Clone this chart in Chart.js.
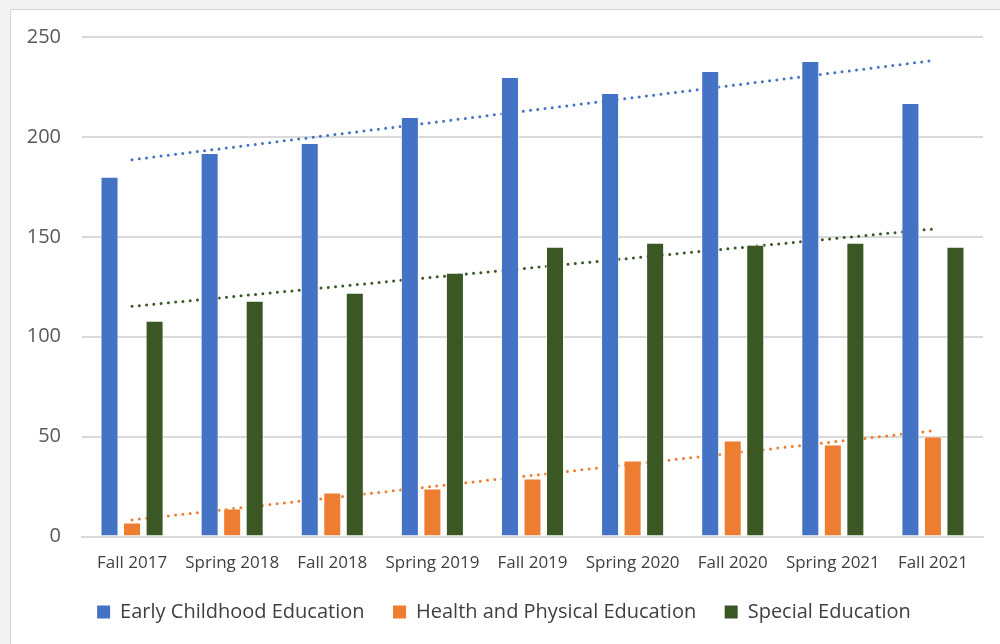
<!DOCTYPE html>
<html>
<head>
<meta charset="utf-8">
<script src="https://cdn.jsdelivr.net/npm/chart.js@4"></script>
<style>
  html, body { margin: 0; padding: 0; background: #f2f2f2; }
  #frame {
    position: absolute; left: 10px; top: 9px; width: 989px; height: 634px;
    background: #ffffff; border-top: 1px solid #d6d6d6; border-left: 1px solid #d6d6d6;
  }
  #myChart { display: block; }
</style>
</head>
<body>
<div id="frame"><canvas id="myChart" width="989" height="634"></canvas></div>
<script>
const semestres = ['Fall 2017', 'Spring 2018', 'Fall 2018', 'Spring 2019', 'Fall 2019',
    'Spring 2020', 'Fall 2020', 'Spring 2021', 'Fall 2021'];

const earlyChildhood = [180, 192, 197, 210, 230, 222, 233, 238, 217];
const healthPhysical = [7, 14, 22, 24, 29, 38, 48, 46, 50];
const specialEd = [108, 118, 122, 132, 145, 147, 146, 147, 145];

// trend lines, read at first and last semester
const trendEarly = [188.6, null, null, null, null, null, null, null, 238.2];
const trendHealth = [8.3, null, null, null, null, null, null, null, 52.9];
const trendSpecial = [115.2, null, null, null, null, null, null, null, 153.9];

const yTicks = [0, 50, 100, 150, 200, 250];

const azul = '#4472c4';
const laranja = '#ed7d31';
const verde = '#3b5724';

function barra(label, data, cor) {
    return {
        type: 'bar', label: label, data: data, backgroundColor: cor,
        borderColor: 'rgba(255,255,255,0.6)', borderWidth: 1, order: 1,
        categoryPercentage: 0.675, barPercentage: 0.8
    };
}

function tendencia(data, cor) {
    return {
        type: 'line', label: '', data: data, borderColor: cor, borderWidth: 3,
        borderDash: [0, 7.3], borderCapStyle: 'round', spanGaps: true,
        pointRadius: 0, fill: false, order: 2, tension: 0
    };
}

const ctx = document.getElementById('myChart');

new Chart(ctx, {
    data: {
        labels: semestres,
        datasets: [
            barra('Early Childhood Education', earlyChildhood, azul),
            barra('Health and Physical Education', healthPhysical, laranja),
            barra('Special Education', specialEd, verde),
            tendencia(trendEarly, azul),
            tendencia(trendHealth, laranja),
            tendencia(trendSpecial, verde)
        ]
    },
    options: {
        responsive: false,
        animation: false,
        layout: { padding: { left: 14, right: 17, top: 27, bottom: 12 } },
        plugins: {
            tooltip: { enabled: false },
            legend: {
                position: 'bottom',
                labels: {
                    filter: item => item.datasetIndex < 3,
                    boxWidth: 13, boxHeight: 13, padding: 28.5,
                    color: '#404040',
                    font: { family: 'Open Sans', size: 20 },
                    generateLabels: chart => {
                        const orig = Chart.defaults.plugins.legend.labels.generateLabels(chart);
                        orig.forEach(l => { l.lineWidth = 0; });
                        return orig;
                    }
                }
            }
        },
        scales: {
            x: {
                grid: { display: false, drawTicks: false },
                border: { display: true, color: '#d9d9d9', width: 2 },
                ticks: { color: '#404040', padding: 16.3, font: { family: 'Open Sans', size: 17 }, maxRotation: 0 },
                afterFit: s => { s.height = 37; }
            },
            y: {
                min: 0, max: 250,
                afterBuildTicks: s => { s.ticks = yTicks.map(v => ({ value: v })); },
                grid: { color: '#d9d9d9', lineWidth: 2, drawTicks: true, tickLength: 21, tickColor: 'rgba(0,0,0,0)' },
                border: { display: false },
                ticks: { color: '#595959', padding: 0, font: { family: 'Open Sans', size: 20 } },
                afterFit: s => { s.width = 57; }
            }
        }
    }
});
</script>
</body>
</html>
